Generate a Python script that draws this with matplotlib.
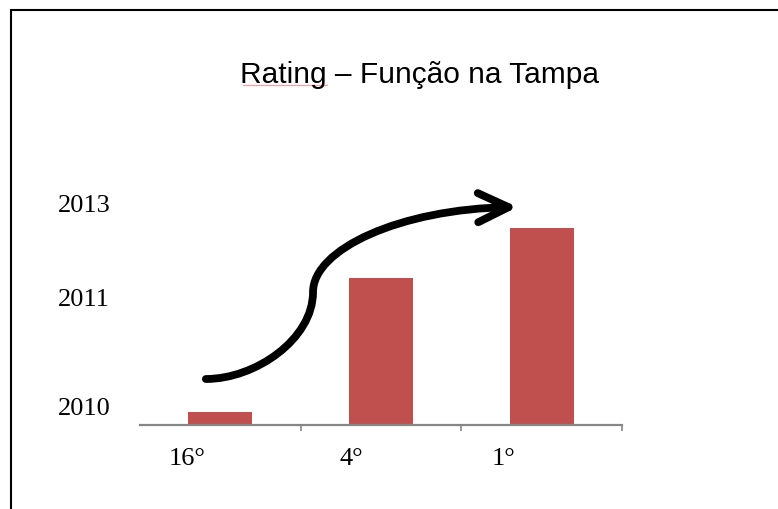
import matplotlib
matplotlib.use("Agg")
import matplotlib.pyplot as plt
from matplotlib.patches import FancyArrowPatch, Rectangle
from matplotlib.path import Path
from matplotlib.lines import Line2D
import matplotlib.transforms as mtransforms

# data
categories = ["16°", "4°", "1°"]
values = [0.65, 7.35, 9.85]
year_labels = ["2010", "2011", "2013"]
year_positions = [0.98, 6.4, 11.15]

# arrow path (data coords: x = category, y = value)
arrow_pts = [(-0.09, 2.3), (0.22, 2.3), (0.577, 4.3), (0.577, 6.65),
             (0.577, 8.8), (1.12, 10.8), (1.85, 10.9)]

bar_color = "#c0504d"
axis_color = "#868686"
serif = ["Liberation Serif", "DejaVu Serif"]
sans = ["Liberation Sans", "DejaVu Sans"]

fig = plt.figure(figsize=(7.78, 5.10), dpi=100)
W, H = 778, 510
ax = fig.add_axes([140 / W, 1 - 426 / H, (622 - 140) / W, (426 - 180) / H])

x = range(len(categories))
ax.bar(x, values, width=0.40, color=bar_color, zorder=2)

ax.set_xlim(-0.5, 2.5)
ax.set_ylim(0, 12.3)

for side in ["top", "right", "left"]:
    ax.spines[side].set_visible(False)
ax.spines["bottom"].set_color(axis_color)
ax.spines["bottom"].set_linewidth(1.6)

# category labels sit left of the bars; tick marks at the boundaries
ax.set_xticks(list(x))
ax.set_xticklabels(categories, fontsize=19, family=serif)
ax.tick_params(axis="x", which="major", length=0, pad=16)
ax.set_xticks([0.5, 1.5, 2.5], minor=True)
ax.tick_params(axis="x", which="minor", length=4, width=1.2, color=axis_color)
label_shift_px = [-33, -30, -38]
for lab, dx in zip(ax.get_xticklabels(), label_shift_px):
    shift = mtransforms.ScaledTranslation(dx / 100, 0, fig.dpi_scale_trans)
    lab.set_transform(lab.get_transform() + shift)

ax.set_yticks(year_positions)
ax.set_yticklabels(year_labels, fontsize=19, family=serif)
ax.tick_params(axis="y", length=0, pad=21.5)

# curved arrow
codes = [Path.MOVETO] + [Path.CURVE4] * 6
arrow = FancyArrowPatch(path=Path(arrow_pts, codes),
                        arrowstyle="->,head_length=0.44,head_width=0.21",
                        mutation_scale=50, lw=5.6, color="black",
                        capstyle="round", joinstyle="round",
                        transform=ax.transData, zorder=3)
ax.add_patch(arrow)

# title
fig.text(420 / W, 1 - 83 / H, "Rating – Função na Tampa", ha="center",
         va="baseline", fontsize=21.5, family=sans)
fig.add_artist(Line2D([243 / W, 327 / W], [1 - 85.5 / H, 1 - 85.5 / H],
                      color="#f4a0a0", lw=0.9))

# outer frame
fig.add_artist(Rectangle((11 / W, -0.2), 2, 1.2 - 10.5 / H, fill=False,
                         edgecolor="black", lw=1.5, transform=fig.transFigure))

fig.savefig("out.png", dpi=100)
